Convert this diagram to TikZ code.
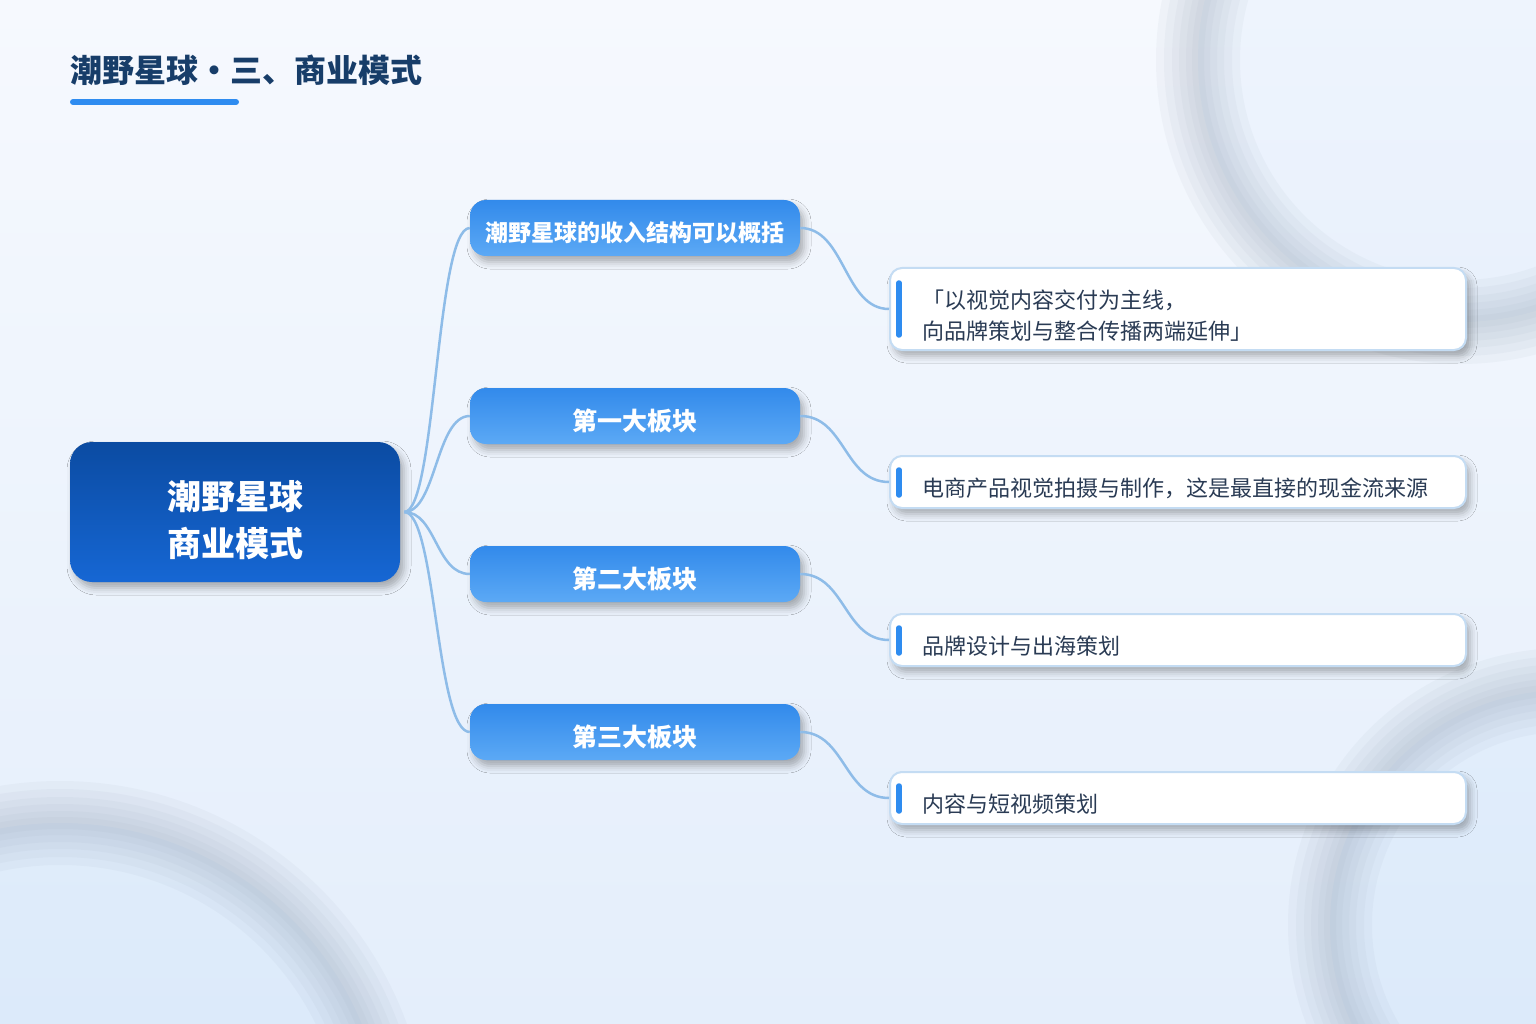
\documentclass[tikz,border=0pt]{standalone}
\usepackage{fontspec}
\setmainfont{Noto Sans CJK SC}
\usetikzlibrary{shadows.blur}

\definecolor{bgtop}{HTML}{F6F9FE}
\definecolor{bgbot}{HTML}{E4EEFB}
\definecolor{ringgray}{HTML}{98A6B8}
\definecolor{titlenavy}{HTML}{173D69}
\definecolor{accentblue}{HTML}{2E8CF0}
\definecolor{roottop}{HTML}{0B4BA2}
\definecolor{rootbot}{HTML}{1667D4}
\definecolor{branchtop}{HTML}{328AEB}
\definecolor{branchbot}{HTML}{5CA9F5}
\definecolor{linkblue}{HTML}{8EBCE8}
\definecolor{leafedge}{HTML}{C4DCF3}
\definecolor{leaftext}{HTML}{2A3B54}

\begin{document}
\begin{tikzpicture}[
    x=1pt, y=-1pt,
    ring/.style={draw=ringgray, draw opacity=0.075},
    ringfill/.style={fill=accentblue, fill opacity=0.04},
    softshadow/.style={blur shadow={shadow xshift=4pt, shadow yshift=-6pt, shadow blur radius=7pt, shadow opacity=30}},
    rootbox/.style={softshadow, rounded corners=22pt, minimum width=330pt, minimum height=140pt, inner sep=0pt,
        top color=roottop, bottom color=rootbot, text=white, align=center,
        text height=88pt, text depth=0pt, font=\fontsize{34}{47}\selectfont\bfseries},
    branchbox/.style={softshadow, rounded corners=16pt, minimum width=330pt, minimum height=56pt, inner sep=0pt,
        top color=branchtop, bottom color=branchbot, text=white,
        text height=29pt, text depth=0pt, font=\fontsize{25}{30}\selectfont\bfseries},
    leafbox/.style={softshadow, rounded corners=12pt, draw=leafedge, line width=2pt, fill=white,
        minimum width=576pt, inner xsep=32pt, inner ysep=0pt, text width=512pt, align=left,
        text height=29pt, text depth=0pt, text=leaftext, font=\fontsize{22}{31}\selectfont},
    accent/.style={accentblue, line width=5.5pt, line cap=round},
    link/.style={linkblue, line width=2.5pt}
]

% Background with soft blurred rings
\useasboundingbox (0,0) rectangle (1536,1024);
\fill[top color=bgtop, bottom color=bgbot] (0,0) rectangle (1536,1024);
\begin{scope}
\clip (0,0) rectangle (1536,1024);
\fill[ringfill] (1460,60) circle (262);
\fill[ringfill] (60,1150) circle (327);
\fill[ringfill] (1565,925) circle (235);
% top right
\draw[ring, line width=84pt] (1460,60) circle (262);
\draw[ring, line width=68pt] (1460,60) circle (262);
\draw[ring, line width=52pt] (1460,60) circle (262);
\draw[ring, line width=38pt] (1460,60) circle (262);
\draw[ring, line width=24pt] (1460,60) circle (262);
\draw[ring, line width=12pt] (1460,60) circle (262);
% bottom left
\draw[ring, line width=84pt] (60,1150) circle (327);
\draw[ring, line width=68pt] (60,1150) circle (327);
\draw[ring, line width=52pt] (60,1150) circle (327);
\draw[ring, line width=38pt] (60,1150) circle (327);
\draw[ring, line width=24pt] (60,1150) circle (327);
\draw[ring, line width=12pt] (60,1150) circle (327);
% bottom right
\draw[ring, line width=84pt] (1565,925) circle (235);
\draw[ring, line width=68pt] (1565,925) circle (235);
\draw[ring, line width=52pt] (1565,925) circle (235);
\draw[ring, line width=38pt] (1565,925) circle (235);
\draw[ring, line width=24pt] (1565,925) circle (235);
\draw[ring, line width=12pt] (1565,925) circle (235);
\end{scope}

% Title
\node[anchor=west, inner sep=0pt, text=titlenavy, font=\fontsize{32}{36}\selectfont\bfseries] (title) at (70,70) {潮野星球・三、商业模式};
\draw[accentblue, line width=6pt, line cap=round] (73,102) -- (236,102);

% Root and branches
\node[rootbox] (root) at (235,512) {潮野星球\\商业模式};
\node[branchbox, text height=27.5pt, font=\fontsize{23}{28}\selectfont\bfseries] (income) at (635,228) {潮野星球的收入结构可以概括};
\node[branchbox] (part1) at (635,416) {第一大板块};
\node[branchbox] (part2) at (635,574) {第二大板块};
\node[branchbox] (part3) at (635,732) {第三大板块};

% Leaves
\node[leafbox, minimum height=82pt, text height=20pt, text depth=21pt] (leafincome) at (1178,309) {「以视觉内容交付为主线，\\向品牌策划与整合传播两端延伸」};
\node[leafbox, minimum height=52pt] (leaf1) at (1178,482) {电商产品视觉拍摄与制作，这是最直接的现金流来源};
\node[leafbox, minimum height=52pt] (leaf2) at (1178,640) {品牌设计与出海策划};
\node[leafbox, minimum height=52pt] (leaf3) at (1178,798) {内容与短视频策划};

% Accent bars on leaves
\draw[accent] ([xshift=10pt, yshift=-16pt]leafincome.north west) -- ([xshift=10pt, yshift=16pt]leafincome.south west);
\draw[accent] ([xshift=10pt, yshift=-15pt]leaf1.north west) -- ([xshift=10pt, yshift=14pt]leaf1.south west);
\draw[accent] ([xshift=10pt, yshift=-15pt]leaf2.north west) -- ([xshift=10pt, yshift=14pt]leaf2.south west);
\draw[accent] ([xshift=10pt, yshift=-15pt]leaf3.north west) -- ([xshift=10pt, yshift=14pt]leaf3.south west);

% Links root -> branches
\draw[link] ([xshift=4pt]root.east) .. controls +(32,0) and +(-34,0) .. (income.west);
\draw[link] ([xshift=4pt]root.east) .. controls +(32,0) and +(-34,0) .. (part1.west);
\draw[link] ([xshift=4pt]root.east) .. controls +(32,0) and +(-34,0) .. (part2.west);
\draw[link] ([xshift=4pt]root.east) .. controls +(32,0) and +(-34,0) .. (part3.west);

% Links branches -> leaves
\draw[link] (income.east) .. controls +(45,0) and +(-45,0) .. (leafincome.west);
\draw[link] (part1.east) .. controls +(45,0) and +(-45,0) .. (leaf1.west);
\draw[link] (part2.east) .. controls +(45,0) and +(-45,0) .. (leaf2.west);
\draw[link] (part3.east) .. controls +(45,0) and +(-45,0) .. (leaf3.west);

\end{tikzpicture}
\end{document}
